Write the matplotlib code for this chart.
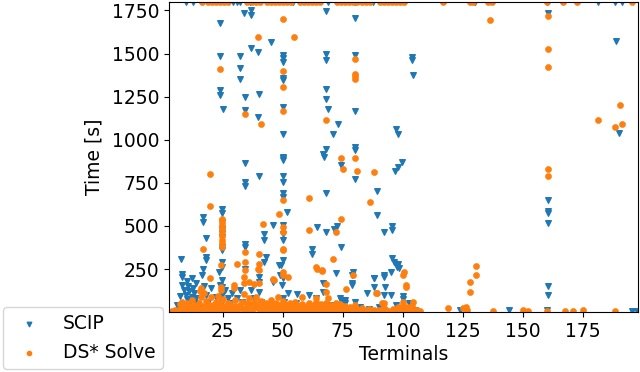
import matplotlib.pyplot as plt

# timeouts (time limit 1800 s)
scip_timeout_terminals = [9.6, 12.7, 29.3, 31, 32.2, 36.4, 54.3, 68.9, 80.1, 87.6,
                          130.1, 160.1, 181.4, 188.5, 191.4]
ds_timeout_terminals = [16.2, 18.9, 20.5, 22.2, 23.9, 25.5, 27.2, 35.1, 37.2, 38.9,
                        40.5, 43.4, 45.1, 46.8, 48.4, 50.1, 51.8, 53.4, 57.2, 58.9,
                        60.5, 62.2, 63.9, 65.5, 72.6, 74.3, 75.9, 77.6, 79.3, 80.9,
                        83, 84.7, 86.4, 90.5, 92.2, 93.9, 95.5, 97.2, 98.9, 100.5,
                        116.8, 128, 129.3, 135.5, 137.2, 160.1, 166.8, 172.6, 195.5]
time_limit = 1800

# SCIP solved instances (terminals, time)
scip_points = [
    (23.9, 1675), (33.85, 1733), (36.9, 1752), (36.9, 1723), (44.9, 1568), (36.9, 1535),
    (39.8, 1510), (23.9, 1485), (32.1, 1485), (49.9, 1491), (49.9, 1472), (49.9, 1452),
    (32.1, 1419), (32.1, 1355), (49.9, 1346), (49.9, 1356), (23.9, 1288), (23.9, 1259),
    (34.1, 1249), (40, 1263), (25, 1176), (34.1, 1172), (49.9, 1191), (39.8, 1133),
    (49.9, 1031), (49.9, 901), (68, 1746), (80.1, 1707), (68, 1500), (68, 1462),
    (80.1, 1494), (104, 1481), (104, 1462), (104.4, 1375), (68, 1297), (68, 1237),
    (68.7, 1177), (80.1, 1166), (72.9, 1090), (70.8, 1036), (97.2, 1060), (98.1, 1036),
    (68, 949), (66.9, 920), (67.3, 901), (80.1, 959), (80.1, 940),
    (160.4, 1738), (188.6, 1574), (190.2, 1042), (160.4, 650), (160.4, 588), (160.4, 573),
    (160.4, 518), (160.4, 151), (160.4, 99),
    (34.1, 866), (49.9, 897), (49.9, 882), (34.1, 752), (34.1, 731), (40, 791), (49.9, 791),
    (49.9, 752), (49.9, 689), (49.9, 669), (51.9, 582), (24.8, 596), (24.8, 573),
    (16.7, 549), (16.7, 524), (18, 431), (24.8, 437), (24.8, 379), (24.8, 360), (24.8, 520),
    (24.8, 480), (24.8, 460), (34.1, 394), (34.1, 379), (42.1, 456), (42.1, 418), (46, 505),
    (49.9, 505), (49.9, 456), (49.9, 418), (18, 321), (18, 302), (16.7, 253), (24.8, 292),
    (24.8, 263), (24.8, 186), (24.8, 147), (34.1, 249), (42.1, 292), (42.9, 321),
    (40.2, 205), (40.2, 176), (49.9, 302), (49.3, 273), (50.1, 195), (45.9, 176),
    (55.8, 104), (74.1, 853), (80.1, 770), (68.1, 689), (89.1, 702), (89.1, 563),
    (96.8, 820), (98.2, 843), (99.8, 872), (64.1, 491), (68, 466), (71.4, 481), (72.7, 499),
    (92.2, 466), (95.4, 499), (95.4, 476), (62.1, 369), (62.1, 335), (74.1, 375),
    (95.4, 312), (96.5, 290), (98, 280), (97.5, 260), (98.4, 255), (72, 228), (79.1, 234),
    (88.1, 195), (92.2, 215), (92.2, 205), (94.9, 234), (79, 157), (88.1, 143), (92.5, 143),
    (85, 112), (92.2, 99), (95.1, 99), (100, 95), (100, 74), (66.9, 166), (66.9, 118),
    (74.3, 70), (76, 70),
    (6, 40), (7, 95), (7.7, 306), (8.2, 220), (8.2, 201), (8, 160), (9, 130), (9.5, 100),
    (10, 180), (10, 75), (10.5, 150), (11, 120), (11.5, 60), (12, 200), (12, 90),
    (12.5, 140), (13, 110), (13.5, 50), (14, 170), (14, 80), (15, 30), (16.5, 215),
    (17, 150), (18, 100), (19, 60), (20, 140), (22, 90), (23.4, 234), (24, 157), (24.5, 99),
    (24.8, 60), (26, 130), (27, 80), (28, 50), (29, 110), (31, 80), (32, 128), (33, 60),
    (35, 40), (36.6, 128), (38, 80), (40, 118), (41, 60), (44, 30), (48.4, 273), (49, 215),
    (49.5, 157), (50, 80), (50.5, 60), (52, 110), (53, 40), (55.4, 50), (58, 30), (61, 99),
    (64, 80), (70, 40), (74, 80), (76, 50), (79, 215), (79, 166), (80, 60), (82, 30),
    (86, 20), (88.1, 195), (90, 30), (97, 40), (101, 20), (102.6, 50), (105, 10),
    (123.8, 10), (144.4, 10), (160, 10), (195.4, 8), (197.5, 8),
]

# DS* Solve solved instances (terminals, time)
ds_points = [
    (49.9, 1698), (39.8, 1597), (54.8, 1597), (23.9, 1413), (49.9, 1398), (49.9, 1307),
    (49.9, 1168), (34.1, 1152), (40.9, 1090), (80.1, 1468), (80.1, 1384), (80.1, 1370),
    (80.1, 1355), (68, 1117), (74.3, 897), (80.1, 897), (75, 833), (81, 820), (88, 814),
    (61.1, 660), (86.4, 636), (74.3, 538), (61.1, 476), (72.2, 466), (71.1, 306),
    (64.1, 248), (66.2, 238), (79.1, 215), (68, 161), (76.2, 132), (100.2, 215),
    (101.2, 147), (89.1, 108), (104.4, 60), (92.2, 50), (57.9, 89), (63.8, 83),
    (100.2, 60), (102.3, 31),
    (160.4, 1717), (136.2, 1692), (160.4, 1529), (160.4, 1421), (190.5, 1199),
    (181.5, 1117), (188.4, 1075), (191.5, 1094), (160.4, 829), (160.4, 789),
    (130.4, 269), (130.4, 213), (128.1, 176), (128.1, 114),
    (19.8, 800), (19.8, 617), (24.8, 543), (24.8, 528), (24.8, 512), (24.8, 495),
    (24.8, 480), (24.8, 460), (24.8, 440), (24.8, 420), (24.8, 400), (24.8, 380),
    (49.9, 650), (48.3, 567), (49.9, 495), (49.9, 466), (49.9, 369), (49.9, 360),
    (41.9, 510), (16.9, 367), (34.1, 350), (34.1, 292), (34.1, 244), (31.1, 282), (40, 340),
    (24.4, 273), (39.5, 253), (19.8, 199), (29.8, 157), (29.8, 137), (34, 170), (36, 176),
    (38, 165), (40, 170), (45.9, 190), (49.9, 234), (49.9, 215), (16, 140), (15.5, 120),
    (33.9, 205), (40, 282), (40, 244), (46.3, 186), (52, 205), (63.7, 263), (66.5, 244),
    (67.9, 118), (91.5, 50), (88.7, 108), (101.2, 157), (100.5, 234), (24.4, 128),
    (24.4, 147),
    (4, 5), (5, 12), (6, 8), (7, 20), (7, 45), (8, 15), (8, 60), (9, 30), (9, 8), (10, 18),
    (10, 52), (11, 10), (11, 35), (12, 22), (12, 70), (13, 14), (13, 40), (14, 28), (14, 9),
    (15, 55), (15, 18), (16, 90), (16, 12), (16, 130), (17, 35), (17, 110), (18, 20),
    (18, 65), (19, 48), (19, 10), (20, 25), (20, 85), (21, 40), (21, 15), (22, 60), (22, 8),
    (23, 30), (23, 95), (24, 18), (24, 50), (25, 12), (25, 75), (26, 38), (26, 22), (27, 55),
    (27, 10), (28, 28), (28, 45), (29, 15), (30, 35), (30, 70), (31, 20), (31, 8), (32, 42),
    (33, 25), (33, 60), (34, 14), (34, 105), (35, 30), (35, 50), (36, 20), (36, 80),
    (37, 40), (37, 12), (38, 58), (38, 25), (39, 33), (39, 90), (40, 18), (40, 48),
    (41, 28), (41, 62), (42, 10), (42, 38), (43, 22), (43, 50), (44, 30), (44, 15), (45, 42),
    (45, 70), (46, 25), (46, 12), (47, 55), (47, 35), (48, 20), (48, 85), (49, 40), (49, 10),
    (50, 30), (50, 65), (51, 18), (51, 45), (52, 28), (52, 8), (53, 50), (53, 22), (54, 35),
    (54, 12), (55, 25), (55, 60), (56, 18), (56, 40), (57, 10), (57, 30), (58, 22), (58, 48),
    (59, 15), (60, 35), (60, 8), (61, 28), (61, 55), (62, 20), (62, 12), (63, 40), (63, 25),
    (64, 15), (64, 60), (65, 30), (65, 10), (66, 22), (66, 45), (67, 35), (67, 12), (68, 50),
    (68, 20), (69, 28), (69, 80), (70, 15), (70, 40), (71, 25), (71, 10), (72, 35), (72, 55),
    (73, 18), (73, 30), (74, 12), (74, 45), (75, 25), (75, 8), (76, 38), (76, 20), (77, 15),
    (78, 30), (78, 10), (79, 22), (80, 40), (80, 12), (81, 18), (82, 8), (83, 25), (84, 12),
    (85, 6), (86, 20), (88, 10), (89, 5), (90, 15), (91, 8), (92, 25), (93, 12), (94, 6),
    (96, 18), (97, 8), (98, 30), (99, 12), (100, 40), (100, 20), (101, 8), (102, 25),
    (103, 12), (104, 35), (105, 8), (106, 15), (107, 5),
    (119, 21), (125.1, 25), (126.2, 30), (126.6, 15), (137.6, 5), (150, 15), (152, 5),
    (160, 8), (167.6, 8), (171, 5), (175, 10), (188.4, 5),
]

scip_terminals = [p[0] for p in scip_points] + scip_timeout_terminals
scip_time = [p[1] for p in scip_points] + [time_limit] * len(scip_timeout_terminals)
ds_terminals = [p[0] for p in ds_points] + ds_timeout_terminals
ds_time = [p[1] for p in ds_points] + [time_limit] * len(ds_timeout_terminals)

fig = plt.figure(figsize=(6.4, 3.72), dpi=100)
ax = fig.add_axes([0.264, 0.161, 0.733, 0.834])

ax.scatter(scip_terminals, scip_time, marker='v', s=16, label='SCIP')
ax.scatter(ds_terminals, ds_time, marker='8', s=16, label='DS* Solve')

ax.set_xlim(2.6, 198)
ax.set_ylim(0, 1800)
ax.set_xticks([25, 50, 75, 100, 125, 150, 175])
ax.set_yticks([250, 500, 750, 1000, 1250, 1500, 1750])
ax.tick_params(labelsize=13.5)
ax.set_xlabel('Terminals', fontsize=13.5, labelpad=3)
ax.set_ylabel('Time [s]', fontsize=13.5, labelpad=6)

fig.legend(loc='lower left', bbox_to_anchor=(0.0, 0.0), fontsize=13.5,
           borderaxespad=0.15, markerscale=0.8)

fig.savefig('out.png')
